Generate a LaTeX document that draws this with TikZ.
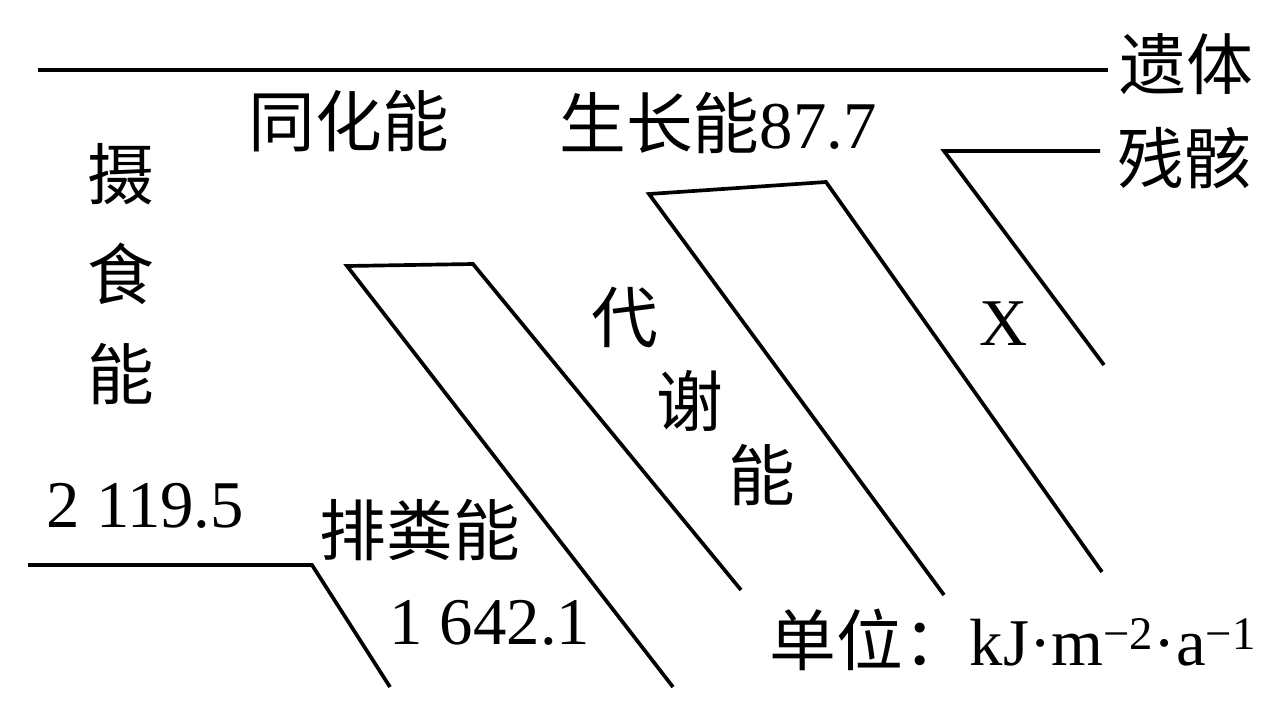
\documentclass[tikz,border=0pt]{standalone}
\usepackage{fontspec}
\setmainfont{Liberation Serif}
\newfontfamily\cjk{Noto Sans CJK SC}
\tikzset{
  flow/.style={line width=2.1pt, line join=miter},
  lbl/.style={inner sep=0pt, font=\fontsize{38}{57}\selectfont}
}
\begin{document}
\begin{tikzpicture}[x=0.02cm, y=-0.02cm]
        \useasboundingbox (0,0) rectangle (1284,710);
        % Eckpunkte der Linien
        \coordinate (topL) at (38,70);
        \coordinate (topR) at (1108,70);
        \coordinate (inL) at (28,565);
        \coordinate (inK) at (312,565);
        \coordinate (inE) at (390,687);
        \coordinate (faTL) at (347,266);
        \coordinate (faTR) at (473,264);
        \coordinate (faBL) at (673,687);
        \coordinate (faBR) at (741,590);
        \coordinate (meTL) at (649,194);
        \coordinate (meTR) at (826,182);
        \coordinate (meBL) at (944,595);
        \coordinate (meBR) at (1102,572);
        \coordinate (reK) at (944,151);
        \coordinate (reR) at (1100,151);
        \coordinate (reE) at (1104,365);
        % Linien
        \draw[flow] (topL) -- (topR);
        \draw[flow] (inL) -- (inK) -- (inE);
        \draw[flow] (faBL) -- (faTL) -- (faTR) -- (faBR);
        \draw[flow] (meBL) -- (meTL) -- (meTR) -- (meBR);
        \draw[flow] (reR) -- (reK) -- (reE);
        % Beschriftungen
        \node[lbl, align=center] (eat) at (121,274) {\cjk 摄\\\cjk 食\\\cjk 能};
        \node[lbl] (eatval) at (145,506) {2 119.5};
        \node[lbl] (assim) at (349,121) {\cjk 同化能};
        \node[lbl] (grow) at (718,123) {{\cjk 生长能}87.7};
        \node[lbl] (corpse) at (1186,64) {\cjk 遗体};
        \node[lbl] (remain) at (1184,158) {\cjk 残骸};
        \node[lbl] (feces) at (420,530) {\cjk 排粪能};
        \node[lbl] (fecesval) at (490,623) {1 642.1};
        \node[lbl] (met1) at (625,318) {\cjk 代};
        \node[lbl] (met2) at (690,401) {\cjk 谢};
        \node[lbl] (met3) at (762,475) {\cjk 能};
        \node[lbl] (xval) at (1004,324) {X};
        \node[lbl] (unit) at (1013,640) {{\cjk 单位：}kJ·m\textsuperscript{−2}·a\textsuperscript{−1}};
      \end{tikzpicture}
\end{document}
